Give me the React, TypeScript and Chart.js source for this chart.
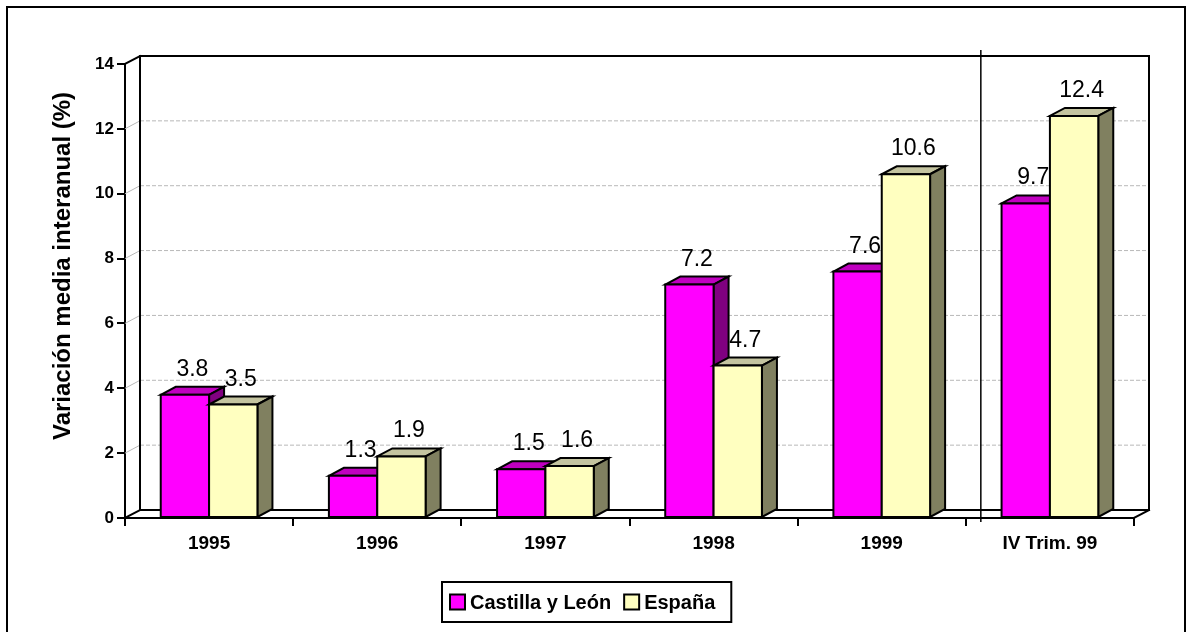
import React, { useEffect, useRef } from 'react';
import { Chart, registerables } from 'chart.js';
Chart.register(...registerables);

const categories = ['1995', '1996', '1997', '1998', '1999', 'IV Trim. 99'];
const castillaYLeon = [3.8, 1.3, 1.5, 7.2, 7.6, 9.7];
const espana = [3.5, 1.9, 1.6, 4.7, 10.6, 12.4];
const seriesLabels = ['Castilla y León', 'España'];
const yTitle = 'Variación media interanual (%)';
const yMin = 0;
const yMax = 14;
const yStep = 2;

const frontColors = ['#FF00FF', '#FFFFC0'];
const topColors = ['#C000C0', '#C4C4A0'];
const sideColors = ['#800080', '#808060'];
const DX = 15;
const DY = 8;
const FONT = 'Arial, "Liberation Sans", Helvetica, sans-serif';

function line(ctx: CanvasRenderingContext2D, x1: number, y1: number, x2: number, y2: number) {
  ctx.beginPath();
  ctx.moveTo(x1, y1);
  ctx.lineTo(x2, y2);
  ctx.stroke();
}

function poly(ctx: CanvasRenderingContext2D, pts: number[][], fill: string) {
  ctx.beginPath();
  ctx.moveTo(pts[0][0], pts[0][1]);
  for (let i = 1; i < pts.length; i++) ctx.lineTo(pts[i][0], pts[i][1]);
  ctx.closePath();
  ctx.fillStyle = fill;
  ctx.fill();
  ctx.stroke();
}

const threeDPlugin = {
  id: 'threeD',
  beforeDatasetsDraw(chart: any) {
    const { ctx, chartArea: a, scales } = chart;
    const y = scales.y;
    ctx.save();
    ctx.lineWidth = 1;
    ctx.strokeStyle = '#B8B8B8';
    for (const t of y.ticks) {
      if (t.value === yMin || t.value === yMax) continue;
      const py = y.getPixelForValue(t.value);
      ctx.setLineDash([]);
      line(ctx, a.left, py, a.left + DX, py - DY);
      ctx.setLineDash([4, 2]);
      line(ctx, a.left + DX, py - DY, a.right + DX, py - DY);
    }
    ctx.setLineDash([]);
    ctx.strokeStyle = '#000';
    ctx.lineWidth = 2;
    ctx.lineCap = 'square';
    const top = y.getPixelForValue(yMax);
    const bot = y.getPixelForValue(yMin);
    line(ctx, a.left + DX, top - DY, a.left + DX, bot - DY);
    line(ctx, a.left, top, a.left + DX, top - DY);
    line(ctx, a.left, bot, a.left + DX, bot - DY);
    line(ctx, a.left + DX, top - DY, a.right + DX, top - DY);
    line(ctx, a.right + DX, top - DY, a.right + DX, bot - DY);
    line(ctx, a.left + DX, bot - DY, a.right + DX, bot - DY);
    line(ctx, a.right, bot, a.right + DX, bot - DY);
    ctx.restore();
  },
  afterDatasetsDraw(chart: any) {
    const { ctx } = chart;
    ctx.save();
    ctx.lineWidth = 2;
    ctx.lineJoin = 'miter';
    ctx.strokeStyle = '#000';
    const n = categories.length;
    for (let i = 0; i < n; i++) {
      chart.data.datasets.forEach((ds: any, d: number) => {
        const el = chart.getDatasetMeta(d).data[i];
        const { x, y, base, width } = el.getProps(['x', 'y', 'base', 'width'], true);
        const l = x - width / 2;
        const r = x + width / 2;
        poly(ctx, [[l, y], [l + DX, y - DY], [r + DX, y - DY], [r, y]], topColors[d]);
        poly(ctx, [[r, y], [r + DX, y - DY], [r + DX, base - DY], [r, base]], sideColors[d]);
        poly(ctx, [[l, y], [r, y], [r, base], [l, base]], frontColors[d]);
        ctx.fillStyle = '#000';
        ctx.font = `23px ${FONT}`;
        ctx.textAlign = 'center';
        ctx.textBaseline = 'alphabetic';
        ctx.fillText(Number(ds.data[i]).toFixed(1), x + DX / 2, y - DY - 11);
      });
    }
    ctx.restore();
  },
  afterDraw(chart: any) {
    const { ctx, chartArea: a, scales } = chart;
    const x = scales.x;
    const y = scales.y;
    ctx.save();
    const sx = (x.getPixelForValue(categories.length - 2) + x.getPixelForValue(categories.length - 1)) / 2 + DX;
    ctx.strokeStyle = '#000';
    ctx.lineWidth = 1.5;
    line(ctx, sx, y.getPixelForValue(yMax) - DY - 6, sx, a.bottom + 4);
    ctx.lineWidth = 2;
    ctx.strokeRect(7, 7, chart.width - 9, chart.height + 10);
    ctx.save();
    ctx.translate(63, 266);
    ctx.rotate(-Math.PI / 2);
    ctx.font = `bold 24px ${FONT}`;
    ctx.fillStyle = '#000';
    ctx.textAlign = 'center';
    ctx.textBaseline = 'middle';
    ctx.fillText(yTitle, 0, 0);
    ctx.restore();
    ctx.font = `bold 20px ${FONT}`;
    const sw = 15;
    const w0 = ctx.measureText(seriesLabels[0]).width;
    const w1 = ctx.measureText(seriesLabels[1]).width;
    const boxW = 8 + sw + 5 + w0 + 13 + sw + 5 + w1 + 16;
    const boxH = 40;
    const bx = Math.round(587 - boxW / 2);
    const by = 582;
    ctx.lineWidth = 2;
    ctx.strokeStyle = '#000';
    ctx.fillStyle = '#fff';
    ctx.fillRect(bx, by, boxW, boxH);
    ctx.strokeRect(bx, by, boxW, boxH);
    let cx = bx + 8;
    const cy = by + boxH / 2;
    ctx.textBaseline = 'middle';
    ctx.textAlign = 'left';
    [w0, w1].forEach((w, i) => {
      ctx.fillStyle = frontColors[i];
      ctx.fillRect(cx, cy - sw / 2, sw, sw);
      ctx.strokeRect(cx, cy - sw / 2, sw, sw);
      ctx.fillStyle = '#000';
      ctx.fillText(seriesLabels[i], cx + sw + 5, cy + 1);
      cx += sw + 5 + w + 13;
    });
    ctx.restore();
  },
};

export default function App() {
  const ref = useRef<HTMLCanvasElement | null>(null);
  useEffect(() => {
    if (!ref.current) return;
    const chart = new Chart(ref.current, {
      type: 'bar',
      data: {
        labels: categories,
        datasets: [
          { label: seriesLabels[0], data: castillaYLeon, backgroundColor: frontColors[0], borderColor: '#000', borderWidth: 0 },
          { label: seriesLabels[1], data: espana, backgroundColor: frontColors[1], borderColor: '#000', borderWidth: 0 },
        ],
      },
      options: {
        responsive: false,
        animation: false,
        layout: { padding: { left: 0, right: 53, top: 64, bottom: 0 } },
        datasets: { bar: { categoryPercentage: 0.575, barPercentage: 1 } },
        plugins: { legend: { display: false }, tooltip: { enabled: false }, title: { display: false } },
        scales: {
          x: {
            type: 'category',
            offset: true,
            grid: { offset: true, drawOnChartArea: false, drawTicks: true, tickLength: 8, color: '#000', lineWidth: 2 },
            border: { display: true, color: '#000', width: 2 },
            ticks: { color: '#000', font: { family: FONT, size: 19, weight: 'bold' }, padding: 6, maxRotation: 0, autoSkip: false },
            afterFit: (s: any) => { s.height = 114; },
          },
          y: {
            min: yMin,
            max: yMax,
            grid: { drawOnChartArea: false, drawTicks: true, tickLength: 8, color: '#000', lineWidth: 2 },
            border: { display: true, color: '#000', width: 2 },
            ticks: { stepSize: yStep, color: '#000', font: { family: FONT, size: 17, weight: 'bold' }, padding: 3 },
            afterFit: (s: any) => { s.width = 125; },
          },
        },
      },
      plugins: [threeDPlugin],
    });
    return () => chart.destroy();
  }, []);
  return (
    <div style={{ position: 'absolute', left: 0, top: 0, width: 1187, height: 632, background: '#fff' }}>
      <canvas ref={ref} width={1187} height={632} style={{ display: 'block' }} />
    </div>
  );
}
